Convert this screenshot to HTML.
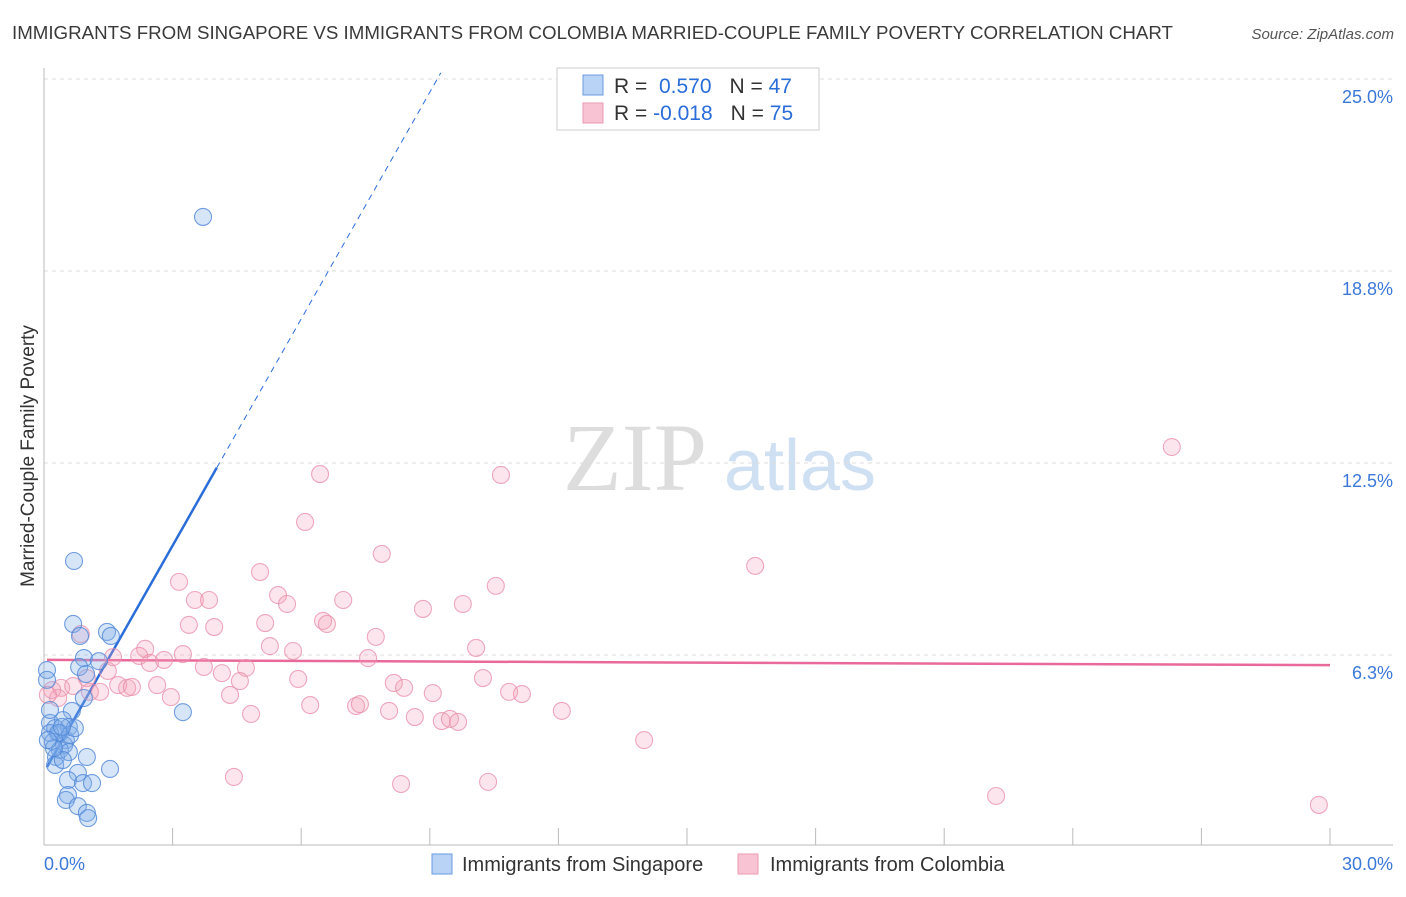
<!DOCTYPE html>
<html><head><meta charset="utf-8"><style>
body{margin:0;background:#fff;font-family:"Liberation Sans",sans-serif;}
</style></head><body>
<svg id="c" width="1406" height="892" xmlns="http://www.w3.org/2000/svg" style="font-family:'Liberation Sans',sans-serif">
<text x="12" y="39" font-size="18" fill="#3a3a3a" textLength="1161" lengthAdjust="spacingAndGlyphs">IMMIGRANTS FROM SINGAPORE VS IMMIGRANTS FROM COLOMBIA MARRIED-COUPLE FAMILY POVERTY CORRELATION CHART</text>
<text x="1394" y="39" font-size="15" fill="#555" font-style="italic" text-anchor="end">Source: ZipAtlas.com</text>
<g>
<text x="635" y="490" font-size="96" fill="#ddd" font-family="Liberation Serif" text-anchor="middle">ZIP</text>
<text x="800" y="490" font-size="72" fill="#cfe0f3" text-anchor="middle">atlas</text>
</g>
<g id="grid"></g>
<g id="axes"></g>
<text transform="translate(34,456) rotate(-90)" font-size="19" fill="#333" text-anchor="middle">Married-Couple Family Poverty</text>
<g id="trend"></g>
<g id="pts"></g>
<g>
<rect x="557" y="68" width="262" height="62" fill="#fff" stroke="#ccc"/>
<rect x="583" y="75" width="20" height="20" fill="#b8d3f5" stroke="#6a9be0"/>
<rect x="583" y="103" width="20" height="20" fill="#f8c4d3" stroke="#ea9ab2"/>
<text x="614" y="93" font-size="21" fill="#333">R = <tspan fill="#2a6dd8">&#160;0.570</tspan><tspan dx="18">N = </tspan><tspan fill="#2a6dd8">47</tspan></text>
<text x="614" y="120" font-size="21" fill="#333">R = <tspan fill="#2a6dd8">-0.018</tspan><tspan dx="18">N = </tspan><tspan fill="#2a6dd8">75</tspan></text>
</g>
<g>
<rect x="432" y="854" width="20" height="20" fill="#b8d3f5" stroke="#6a9be0"/>
<text x="462" y="871" font-size="20" fill="#333">Immigrants from Singapore</text>
<rect x="738" y="854" width="20" height="20" fill="#f8c4d3" stroke="#ea9ab2"/>
<text x="770" y="871" font-size="20" fill="#333">Immigrants from Colombia</text>
</g>
</svg>
<script>
const yTicks=[6.25,12.5,18.75,25];
const yTickLabels=["6.3%","12.5%","18.8%","25.0%"];
const xTickCount=10;
const blueX=[3.71,0.70,0.68,0.84,1.47,1.56,0.93,1.28,0.82,0.98,0.07,0.07,0.93,3.24,0.65,0.44,0.14,0.26,0.58,0.37,0.14,0.21,0.51,0.47,0.37,0.28,0.58,1.00,0.26,0.44,1.54,0.79,0.56,0.91,1.12,0.56,0.51,0.79,1.00,1.03,0.33,0.61,0.72,0.42,0.23,0.09,0.14];
const blueY=[20.51,9.31,7.26,6.87,7.00,6.87,6.15,6.05,5.86,5.63,5.76,5.44,4.85,4.39,4.43,4.13,4.04,3.87,3.91,3.71,3.71,3.42,3.48,3.32,3.16,2.93,3.09,2.93,2.67,2.83,2.54,2.41,2.18,2.08,2.08,1.69,1.53,1.33,1.11,0.94,3.71,3.65,3.87,3.91,3.22,3.48,4.46];
const pinkX=[26.31,6.44,10.66,6.09,7.88,16.59,3.15,5.04,10.54,5.46,3.52,3.85,5.67,6.98,8.84,9.77,6.51,6.60,3.38,3.97,5.16,7.74,10.08,0.86,2.36,1.61,2.22,2.47,2.80,3.24,5.81,5.27,7.56,3.73,4.15,4.71,1.49,1.00,0.40,0.19,0.68,1.73,1.94,2.05,2.64,4.57,5.93,8.16,8.40,10.24,1.31,0.33,2.96,4.34,9.07,10.85,11.15,6.21,7.28,7.37,8.05,8.65,9.28,9.47,9.66,12.08,4.83,14.00,4.43,8.33,10.36,22.21,29.74,0.09,1.07];
const pinkY=[13.02,12.14,12.11,10.58,9.54,9.15,8.63,8.95,8.50,8.20,8.04,8.04,7.91,8.04,7.75,7.91,7.36,7.26,7.23,7.16,7.29,6.84,6.48,6.93,6.45,6.18,6.22,5.99,6.09,6.28,6.38,6.54,6.15,5.86,5.66,5.83,5.73,5.50,5.18,5.11,5.24,5.27,5.18,5.21,5.27,5.40,5.47,5.34,5.18,5.50,5.05,4.85,4.88,4.95,5.01,5.05,4.98,4.62,4.59,4.65,4.43,4.23,4.10,4.17,4.07,4.43,4.33,3.48,2.28,2.05,2.12,1.66,1.37,4.95,5.05];
const blueTrend=[2.43,2.46]; // intercept, slope
const pinkTrend=[6.09,-0.0057];
const NS="http://www.w3.org/2000/svg";
const X=v=>44+v/30*1286, Y=v=>847-v/6.25*192;
function mk(t,a,p){const e=document.createElementNS(NS,t);for(const k in a)e.setAttribute(k,a[k]);document.getElementById(p).appendChild(e);return e;}
yTicks.forEach((t,i)=>{
 const l=mk('line',{x1:44,x2:1393,y1:Y(t),y2:Y(t),stroke:'#ddd','stroke-dasharray':'4,4'},'grid');
 
 
 const tx=mk('text',{x:1393,y:Y(t)+24,'font-size':18,fill:'#3b78d8','text-anchor':'end'},'grid');
 tx.textContent=yTickLabels[i];
 
 
});
let a=mk('line',{x1:44,x2:44,y1:68,y2:845,stroke:'#bbb'},'axes');


a=mk('line',{x1:44,x2:1393,y1:845,y2:845,stroke:'#bbb'},'axes');


for(let i=1;i<=xTickCount;i++){const t=mk('line',{x1:X(i*3),x2:X(i*3),y1:828,y2:845,stroke:'#bbb'},'axes');
 
 }
let t=mk('text',{x:44,y:870,'font-size':18,fill:'#3b78d8'},'axes');t.textContent='0.0%';


t=mk('text',{x:1393,y:870,'font-size':18,fill:'#3b78d8','text-anchor':'end'},'axes');t.textContent='30.0%';


pinkX.forEach((x,i)=>{const c=mk('circle',{cx:X(x),cy:Y(pinkY[i]),r:8.5,fill:'rgba(244,160,188,0.28)',stroke:'rgba(232,140,170,0.75)','stroke-width':1.1},'pts');
 
 });
blueX.forEach((x,i)=>{const c=mk('circle',{cx:X(x),cy:Y(blueY[i]),r:8.5,fill:'rgba(130,175,235,0.33)',stroke:'rgba(80,135,215,0.8)','stroke-width':1.1},'pts');
 
 });
const bf=x=>blueTrend[0]+blueTrend[1]*x, pf=x=>pinkTrend[0]+pinkTrend[1]*x;
let l=mk('line',{x1:X(0.07),y1:Y(bf(0.07)),x2:X(4.03),y2:Y(bf(4.03)),stroke:'#2a6dd8','stroke-width':2.5},'trend');


const xe=(25.2-blueTrend[0])/blueTrend[1];
l=mk('line',{x1:X(4.03),y1:Y(bf(4.03)),x2:X(xe),y2:Y(bf(xe)),stroke:'#2a6dd8','stroke-width':1,'stroke-dasharray':'6,5'},'trend');


l=mk('line',{x1:X(0.07),y1:Y(pf(0.07)),x2:X(30),y2:Y(pf(30)),stroke:'#e8699a','stroke-width':2.5},'trend');


</script>
</body></html>
